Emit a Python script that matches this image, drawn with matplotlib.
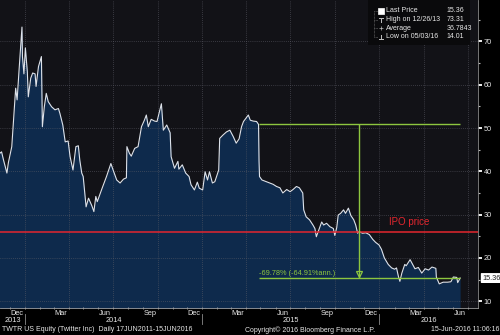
import matplotlib
matplotlib.use('Agg')
import matplotlib.pyplot as plt
import matplotlib.dates as mdates
from matplotlib.lines import Line2D
from matplotlib.patches import Rectangle
from matplotlib.ticker import MultipleLocator, FixedLocator
from matplotlib.transforms import blended_transform_factory
import pandas as pd

plt.rcParams['font.family'] = ['Liberation Sans', 'DejaVu Sans']

# TWTR daily close
dates = [
    '2013-11-07', '2013-11-11', '2013-11-14', '2013-11-18', '2013-11-25', '2013-11-28',
    '2013-12-05', '2013-12-09', '2013-12-13', '2013-12-16', '2013-12-20', '2013-12-26',
    '2013-12-27', '2013-12-30', '2014-01-02', '2014-01-06', '2014-01-08', '2014-01-13',
    '2014-01-17', '2014-01-22', '2014-01-24', '2014-01-29', '2014-02-04', '2014-02-06',
    '2014-02-10', '2014-02-14', '2014-02-18', '2014-02-25', '2014-03-04', '2014-03-11',
    '2014-03-14', '2014-03-20', '2014-03-25', '2014-03-31', '2014-04-04', '2014-04-10',
    '2014-04-16', '2014-04-21', '2014-04-24', '2014-04-28', '2014-05-01', '2014-05-07',
    '2014-05-12', '2014-05-19', '2014-05-23', '2014-05-27', '2014-05-30', '2014-06-09',
    '2014-06-18', '2014-06-27', '2014-07-01', '2014-07-09', '2014-07-16', '2014-07-23',
    '2014-07-29', '2014-07-30', '2014-08-04', '2014-08-08', '2014-08-15', '2014-08-22',
    '2014-08-29', '2014-09-04', '2014-09-08', '2014-09-12', '2014-09-18', '2014-09-25',
    '2014-09-30', '2014-10-06', '2014-10-09', '2014-10-13', '2014-10-20', '2014-10-27',
    '2014-10-29', '2014-11-05', '2014-11-12', '2014-11-14', '2014-11-21', '2014-11-28',
    '2014-12-05', '2014-12-09', '2014-12-16', '2014-12-22', '2014-12-26', '2015-01-02',
    '2015-01-07', '2015-01-12', '2015-01-16', '2015-01-22', '2015-01-27', '2015-02-04',
    '2015-02-06', '2015-02-13', '2015-02-20', '2015-02-27', '2015-03-06', '2015-03-12',
    '2015-03-18', '2015-03-23', '2015-03-27', '2015-04-06', '2015-04-10', '2015-04-16',
    '2015-04-23', '2015-04-27', '2015-04-28', '2015-04-29', '2015-05-04', '2015-05-11',
    '2015-05-20', '2015-05-27', '2015-06-03', '2015-06-10', '2015-06-16', '2015-06-24',
    '2015-07-01', '2015-07-07', '2015-07-14', '2015-07-20', '2015-07-27', '2015-07-29',
    '2015-08-03', '2015-08-10', '2015-08-17', '2015-08-21', '2015-08-24', '2015-09-04',
    '2015-09-08', '2015-09-14', '2015-09-21', '2015-09-28', '2015-10-01', '2015-10-05',
    '2015-10-08', '2015-10-13', '2015-10-19', '2015-10-23', '2015-10-29', '2015-11-03',
    '2015-11-09', '2015-11-13', '2015-11-17', '2015-11-20', '2015-11-27', '2015-12-04',
    '2015-12-11', '2015-12-18', '2015-12-24', '2015-12-31', '2016-01-05', '2016-01-11',
    '2016-01-19', '2016-01-26', '2016-02-01', '2016-02-05', '2016-02-09', '2016-02-12',
    '2016-02-16', '2016-02-22', '2016-02-25', '2016-03-04', '2016-03-14', '2016-03-21',
    '2016-03-28', '2016-04-04', '2016-04-11', '2016-04-18', '2016-04-26', '2016-04-27',
    '2016-05-03', '2016-05-11', '2016-05-20', '2016-05-27', '2016-06-01', '2016-06-08',
    '2016-06-10', '2016-06-15',
]
prices = [
    45.0, 44.2, 44.5, 42.6, 39.6, 42.0,
    45.7, 52.6, 59.2, 56.5, 63.4, 73.31,
    66.5, 62.5, 68.5, 63.0, 57.2, 61.5,
    62.7, 62.5, 59.6, 64.2, 66.5, 50.3,
    54.9, 58.0, 56.1, 54.9, 54.2, 54.5,
    53.4, 50.7, 46.8, 47.0, 43.4, 40.3,
    45.7, 45.9, 42.6, 39.6, 38.8, 31.8,
    33.8, 32.0, 30.7, 34.2, 33.0, 36.1,
    38.8, 41.8, 40.5, 38.0, 37.3, 38.2,
    38.5, 45.7, 44.2, 43.5, 45.3, 45.7,
    50.3, 51.8, 53.0, 50.3, 52.0, 51.6,
    51.5, 54.2, 55.6, 49.5, 50.7, 48.9,
    43.4, 40.7, 42.3, 40.5, 41.5, 39.6,
    38.8, 36.9, 35.7, 37.5, 36.1, 35.7,
    39.9, 38.0, 39.9, 37.3, 37.6, 40.3,
    47.6, 48.4, 49.1, 49.5, 48.0, 46.5,
    47.5, 50.3, 51.5, 53.0, 51.8, 51.6,
    51.5, 50.83, 42.3, 38.8, 38.0, 37.7,
    37.3, 37.0, 36.5, 36.2, 35.0, 35.8,
    35.3, 35.8, 36.5, 36.2, 35.0, 31.1,
    29.5, 28.8, 27.6, 26.8, 24.9, 28.3,
    27.6, 28.0, 27.2, 26.8, 25.2, 27.0,
    29.9, 30.3, 31.1, 30.3, 31.5, 29.8,
    28.8, 27.6, 25.7, 26.1, 25.7, 25.8,
    25.4, 24.3, 23.6, 23.0, 22.0, 20.0,
    18.5, 17.7, 17.4, 17.7, 15.7, 14.6,
    16.5, 18.5, 18.2, 19.6, 17.5, 17.8,
    16.5, 17.5, 17.2, 17.9, 17.6, 15.6,
    14.01, 14.4, 14.4, 14.5, 15.6, 15.5,
    14.3, 15.36,
]

ipo_price = 26.0
ref_start = '2015-04-27'
ref_price = 50.83
last_date = '2016-06-15'
last_price = 15.36
measure_date = '2015-11-19'
change_text = '-69.78% (-64.91%ann.)'
ipo_text_date = '2016-01-20'
legend_labels = ['Last Price', 'High on 12/26/13', 'Average', 'Low on 05/03/16']
legend_values = ['15.36', '73.31', '36.7843', '14.01']
y_ticks = [10, 20, 30, 40, 50, 60, 70]
x_start, x_end = '2013-11-10 18:00', '2016-07-20 18:00'

BG = '#121217'
FILL = '#0e2a4c'
LINE = '#dde2ea'
GREEN = '#8dc63f'
RED = '#e3262e'
GRID = '#5e5e68'
TXT = '#e8e8e8'

d = pd.to_datetime(dates)
fig = plt.figure(figsize=(5, 3.35), dpi=100, facecolor='black')
ax = fig.add_axes([0, 0.082, 0.955, 0.918])
ax.set_facecolor(BG)

ax.fill_between(d, prices, 0, color=FILL, lw=0, zorder=1)
ax.plot(d, prices, color=LINE, lw=0.8, zorder=4)

# grid: horizontal at major y ticks, vertical at quarter starts
for yv in y_ticks:
    ax.axhline(yv, color=GRID, lw=0.5, ls=(0, (1, 2)), zorder=2)
for q in pd.date_range('2014-01-01', x_end, freq='QS'):
    ax.axvline(q, color=GRID, lw=0.5, ls=(0, (1, 2)), zorder=2)

# IPO line
ax.axhline(ipo_price, color=RED, lw=1.1, zorder=5)
ax.text(pd.Timestamp(ipo_text_date), ipo_price + 2.3, 'IPO price', color=RED,
        fontsize=7, ha='left', va='center', zorder=6)

# drawdown measure
ax.hlines([ref_price, last_price], pd.Timestamp(ref_start), pd.Timestamp(last_date),
          color=GREEN, lw=1.0, zorder=6)
ax.vlines(pd.Timestamp(measure_date), last_price, ref_price, color=GREEN, lw=1.0, zorder=6)
ax.plot(pd.Timestamp(measure_date), last_price + 0.9, marker='v', ms=4.5, mfc='none',
        mec=GREEN, mew=0.9, zorder=7)
ax.text(pd.Timestamp(ref_start), last_price + 0.35, change_text, color=GREEN, fontsize=5.3,
        ha='left', va='bottom', zorder=7)

ax.set_xlim(pd.Timestamp(x_start), pd.Timestamp(x_end))
ax.set_ylim(8.55, 79.56)

# axes styling
for s in ['left', 'top']:
    ax.spines[s].set_visible(False)
ax.spines['right'].set_color('#8a8a8a')
ax.spines['right'].set_linewidth(0.6)
ax.spines['bottom'].set_color('#9a9a9a')
ax.spines['bottom'].set_linewidth(0.6)

ax.yaxis.tick_right()
ax.yaxis.set_major_locator(FixedLocator(y_ticks))
ax.yaxis.set_minor_locator(MultipleLocator(5))
ax.tick_params(axis='y', which='major', length=3, width=1.3, color='white',
               labelcolor=TXT, labelsize=5.3, pad=1.5)
ax.tick_params(axis='y', which='minor', length=1.5, width=0.8, color='#bbbbbb')

ax.xaxis.set_major_locator(mdates.MonthLocator(bymonth=[3, 6, 9, 12], bymonthday=15))
ax.xaxis.set_major_formatter(mdates.DateFormatter('%b'))
ax.xaxis.set_minor_locator(mdates.MonthLocator())
ax.tick_params(axis='x', which='major', length=0, labelcolor=TXT, labelsize=5.3, pad=1.5)
ax.tick_params(axis='x', which='minor', length=2, width=0.6, color='#aaaaaa', direction='inout')

# year separators and labels below the axis
trans = blended_transform_factory(ax.transData, ax.transAxes)
x0, x1 = pd.Timestamp(x_start), pd.Timestamp(x_end)
for yr in range(2013, 2017):
    ys = pd.Timestamp(f'{yr}-01-01')
    ye = pd.Timestamp(f'{yr + 1}-01-01')
    if ys > x0:
        ax.plot([ys, ys], [-0.022, -0.055], transform=trans, color='#8a8a8a', lw=0.6, clip_on=False)
    a, b = max(ys, x0), min(ye, x1)
    ax.text(a + (b - a) / 2, -0.041, str(yr), transform=trans, color=TXT, fontsize=5.3,
            ha='center', va='center')

# last price tag on the right axis
ax.text(1.01, last_price, f'{last_price:.2f}', transform=blended_transform_factory(ax.transAxes, ax.transData),
        color='#222222', fontsize=5.3, ha='left', va='center', clip_on=False, zorder=8,
        bbox=dict(boxstyle='round,pad=0.2,rounding_size=0.1', fc='white', ec='none'))

# legend box, top right
fig.add_artist(Rectangle((0.736, 0.866), 0.204, 0.134, transform=fig.transFigure,
                         fc='#0a0a0c', ec='none'))
rows_y = [1 - 11 / 335, 1 - 19.7 / 335, 1 - 28.2 / 335, 1 - 36.6 / 335]
fig.add_artist(Line2D([0.748, 0.748], [rows_y[0], rows_y[3]], transform=fig.transFigure,
                      color='#777777', lw=0.5, ls=(0, (1, 1))))
for i, (lab, val, y) in enumerate(zip(legend_labels, legend_values, rows_y)):
    fig.add_artist(Line2D([0.748, 0.756], [y, y], transform=fig.transFigure,
                          color='#777777', lw=0.5, ls=(0, (1, 1))))
    fig.text(0.772, y, lab, color=TXT, fontsize=5, ha='left', va='center')
    fig.text(0.893, y, val, color=TXT, fontsize=5, ha='left', va='center')
icons = ['s', '$\u22A4$', '+', '$\u22A5$']
for mk, y in zip(icons, rows_y):
    filled = mk == 's'
    fig.add_artist(Line2D([0.762], [y], transform=fig.transFigure, marker=mk,
                          ms=5 if filled else 3.5, mfc='white' if filled else '#bbbbbb',
                          mec='white' if filled else '#bbbbbb', mew=0.5, ls='none'))

# footer
fig.text(0.004, 0.015, 'TWTR US Equity (Twitter Inc)  Daily 17JUN2011-15JUN2016', color=TXT,
         fontsize=5, ha='left', va='center')
fig.text(0.49, 0.015, 'Copyright\u00a9 2016 Bloomberg Finance L.P.', color=TXT,
         fontsize=5, ha='left', va='center')
fig.text(0.998, 0.015, '15-Jun-2016 11:06:16', color=TXT, fontsize=5, ha='right', va='center')

fig.savefig('out.png', dpi=100, facecolor='black')
